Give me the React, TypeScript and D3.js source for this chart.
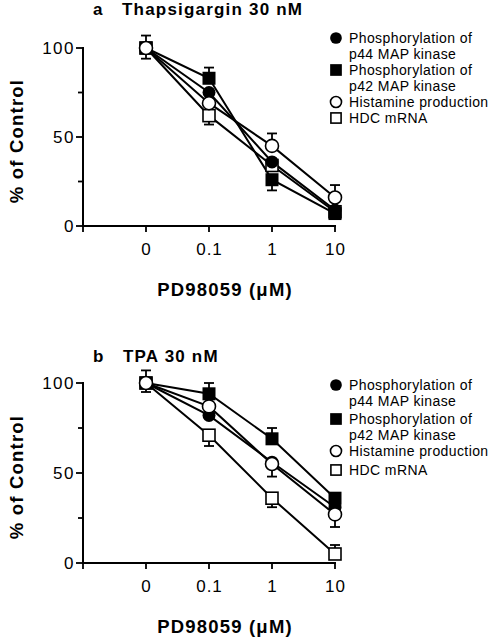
import React from "react";
import * as d3 from "d3";

// ---- data ----
const doses = ["0", "0.1", "1", "10"];
const yTicks = [0, 25, 50, 75, 100];
const yTickLabels = ["0", "", "50", "", "100"];

const seriesKeys = ["p44", "p42", "hist", "hdc"];
const legendLines = [
  ["Phosphorylation of", "p44 MAP kinase"],
  ["Phosphorylation of", "p42 MAP kinase"],
  ["Histamine production"],
  ["HDC mRNA"],
];

// Panel a: Thapsigargin 30 nM
const aP44 = [100, 75, 36, 9];
const aP42 = [100, 83, 26, 7];
const aHist = [100, 69, 45, 16];
const aHdc = [100, 62, 34, 8];
const aP44Up = [0, 0, 0, 0];
const aP44Down = [0, 0, 0, 0];
const aP42Up = [0, 6, 0, 0];
const aP42Down = [0, 0, 6, 0];
const aHistUp = [7, 0, 7, 7];
const aHistDown = [6, 0, 0, 0];
const aHdcUp = [0, 0, 0, 0];
const aHdcDown = [0, 5, 0, 0];

// Panel b: TPA 30 nM
const bP44 = [100, 82, 56, 31];
const bP42 = [100, 94, 69, 36];
const bHist = [100, 87, 55, 27];
const bHdc = [100, 71, 36, 5];
const bP44Up = [0, 0, 0, 0];
const bP44Down = [0, 0, 0, 0];
const bP42Up = [0, 6, 6, 0];
const bP42Down = [0, 0, 0, 0];
const bHistUp = [7, 0, 0, 0];
const bHistDown = [5, 0, 7, 7];
const bHdcUp = [0, 0, 0, 5];
const bHdcDown = [0, 6, 5, 0];

const FONT = "'Liberation Sans', Arial, Helvetica, sans-serif";

type Series = { key: string; values: number[]; up: number[]; down: number[] };

function Marker({ kind, x, y, s = 1 }: { kind: string; x: number; y: number; s?: number }) {
  if (kind === "p44") return <circle cx={x} cy={y} r={6.5 * s} fill="#000" />;
  if (kind === "p42")
    return <rect x={x - 6.5 * s} y={y - 6.5 * s} width={13 * s} height={13 * s} fill="#000" />;
  if (kind === "hist")
    return <circle cx={x} cy={y} r={6.5 * s} fill="#fff" stroke="#000" strokeWidth={1.6} />;
  return (
    <rect x={x - 6 * s} y={y - 6 * s} width={12 * s} height={12 * s} fill="#fff" stroke="#000" strokeWidth={1.6} />
  );
}

function Panel({
  series,
  label,
  title,
  titleY,
  titleX,
  top,
  bottom,
  legendTop,
  legendOffsets,
}: {
  series: Series[];
  label: string;
  title: string;
  titleY: number;
  titleX: number;
  top: number;
  bottom: number;
  legendTop: number;
  legendOffsets: number[];
}) {
  const x = d3.scalePoint<string>().domain(doses).range([146, 335]);
  const y = d3.scaleLinear().domain([0, 100]).range([bottom, top]);
  const axisX = 83;
  const line = d3
    .line<number>()
    .x((_, i) => x(doses[i]) as number)
    .y((d) => y(d));
  const drawOrder = ["hdc", "p44", "p42", "hist"];
  const ordered = drawOrder.map((k) => series.find((s) => s.key === k)!);

  const legendRows: { kind: string | null; text: string }[] = [];
  legendLines.forEach((lines, i) => {
    lines.forEach((t, j) => legendRows.push({ kind: j === 0 ? seriesKeys[i] : null, text: t }));
  });

  return (
    <g>
      {/* title */}
      <text x={93} y={titleY} fontFamily={FONT} fontWeight="bold" fontSize={17} letterSpacing={1.2}>
        {label}
      </text>
      <text x={titleX} y={titleY} fontFamily={FONT} fontWeight="bold" fontSize={17} letterSpacing={1.2}>
        {title}
      </text>

      {/* y axis */}
      <line x1={axisX} x2={axisX} y1={y(100) - 1} y2={y(0)} stroke="#000" strokeWidth={2} />
      {yTicks.map((t, i) => (
        <g key={t}>
          <line
            x1={axisX - (yTickLabels[i] ? 7 : 5)}
            x2={axisX}
            y1={y(t)}
            y2={y(t)}
            stroke="#000"
            strokeWidth={1.8}
          />
          {yTickLabels[i] && (
            <text
              x={axisX - 8}
              y={y(t) + 6}
              textAnchor="end"
              fontFamily={FONT}
              fontSize={17}
              letterSpacing={1.5}
            >
              {yTickLabels[i]}
            </text>
          )}
        </g>
      ))}
      <text
        transform={`translate(23,${(y(0) + y(100)) / 2 + 4}) rotate(-90)`}
        textAnchor="middle"
        fontFamily={FONT}
        fontWeight="bold"
        fontSize={18.5}
        letterSpacing={1.2}
      >
        % of Control
      </text>

      {/* x axis */}
      <line x1={axisX - 1} x2={(x("10") as number) + 1} y1={y(0)} y2={y(0)} stroke="#000" strokeWidth={2} />
      <line x1={axisX} x2={axisX} y1={y(0)} y2={y(0) + 6} stroke="#000" strokeWidth={1.8} />
      {doses.map((d) => (
        <g key={d}>
          <line x1={x(d)} x2={x(d)} y1={y(0)} y2={y(0) + 6} stroke="#000" strokeWidth={1.8} />
          <text
            x={(x(d) as number) + 0.5}
            y={y(0) + 29}
            textAnchor="middle"
            fontFamily={FONT}
            fontSize={17}
            letterSpacing={1}
          >
            {d}
          </text>
        </g>
      ))}
      <text
        x={225}
        y={y(0) + 70}
        textAnchor="middle"
        fontFamily={FONT}
        fontWeight="bold"
        fontSize={18.5}
        letterSpacing={1.2}
      >
        PD98059 (μM)
      </text>

      {/* lines */}
      {ordered.map((s) => (
        <path key={s.key} d={line(s.values) as string} fill="none" stroke="#000" strokeWidth={2} />
      ))}

      {/* error bars */}
      {ordered.map((s) =>
        s.values.map((v, i) => {
          const cx = x(doses[i]) as number;
          const els: React.ReactNode[] = [];
          if (s.up[i] > 0) {
            const ty = y(v + s.up[i]);
            els.push(
              <g key={`u${i}`}>
                <line x1={cx} x2={cx} y1={y(v)} y2={ty} stroke="#000" strokeWidth={1.8} />
                <line x1={cx - 5} x2={cx + 5} y1={ty} y2={ty} stroke="#000" strokeWidth={1.8} />
              </g>
            );
          }
          if (s.down[i] > 0) {
            const by = y(v - s.down[i]);
            els.push(
              <g key={`d${i}`}>
                <line x1={cx} x2={cx} y1={y(v)} y2={by} stroke="#000" strokeWidth={1.8} />
                <line x1={cx - 5} x2={cx + 5} y1={by} y2={by} stroke="#000" strokeWidth={1.8} />
              </g>
            );
          }
          return <g key={`${s.key}-${i}`}>{els}</g>;
        })
      )}

      {/* markers */}
      {ordered.map((s) =>
        s.values.map((v, i) => (
          <Marker key={`${s.key}-m${i}`} kind={s.key} x={x(doses[i]) as number} y={y(v)} />
        ))
      )}

      {/* legend */}
      {legendRows.map((r, i) => {
        const cy = legendTop + legendOffsets[i];
        return (
          <g key={i}>
            {r.kind && <Marker kind={r.kind} x={336} y={cy} s={r.kind === "hist" || r.kind === "hdc" ? 0.85 : 0.9} />}
            <text x={349} y={cy + 5} fontFamily={FONT} fontSize={14} letterSpacing={0.4}>
              {r.text}
            </text>
          </g>
        );
      })}
    </g>
  );
}

export default function App() {
  const seriesA: Series[] = [
    { key: "p44", values: aP44, up: aP44Up, down: aP44Down },
    { key: "p42", values: aP42, up: aP42Up, down: aP42Down },
    { key: "hist", values: aHist, up: aHistUp, down: aHistDown },
    { key: "hdc", values: aHdc, up: aHdcUp, down: aHdcDown },
  ];
  const seriesB: Series[] = [
    { key: "p44", values: bP44, up: bP44Up, down: bP44Down },
    { key: "p42", values: bP42, up: bP42Up, down: bP42Down },
    { key: "hist", values: bHist, up: bHistUp, down: bHistDown },
    { key: "hdc", values: bHdc, up: bHdcUp, down: bHdcDown },
  ];
  return (
    <svg
      width={490}
      height={640}
      viewBox="0 0 490 640"
      style={{ position: "absolute", left: 0, top: 0, background: "#fff" }}
    >
      <rect width={490} height={640} fill="#fff" />
      <Panel
        series={seriesA}
        label="a"
        title="Thapsigargin 30 nM"
        titleX={122}
        titleY={15}
        top={48}
        bottom={226}
        legendTop={38}
        legendOffsets={[0, 16, 32, 48, 64, 80]}
      />
      <Panel
        series={seriesB}
        label="b"
        title="TPA 30 nM"
        titleX={123}
        titleY={362}
        top={383}
        bottom={563}
        legendTop={385}
        legendOffsets={[0, 16, 34, 50, 66, 85]}
      />
    </svg>
  );
}
